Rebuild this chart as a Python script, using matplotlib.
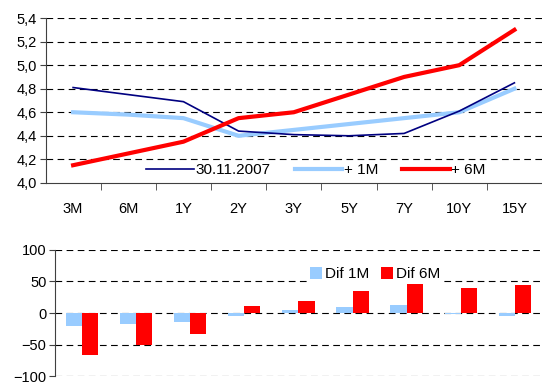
import matplotlib
matplotlib.use("Agg")
import matplotlib.pyplot as plt
import numpy as np
from matplotlib.ticker import FuncFormatter, FixedLocator

plt.rcParams['font.family'] = ['Liberation Sans', 'DejaVu Sans']
plt.rcParams['font.size'] = 10.5

# Yield curve tenors
tenors = ["3M", "6M", "1Y", "2Y", "3Y", "5Y", "7Y", "10Y", "15Y"]

# Yield levels (%)
curve_base = [4.81, 4.75, 4.69, 4.44, 4.41, 4.40, 4.42, 4.61, 4.85]
curve_1m = [4.60, 4.58, 4.55, 4.40, 4.45, 4.50, 4.55, 4.60, 4.80]
curve_6m = [4.15, 4.25, 4.35, 4.55, 4.60, 4.75, 4.90, 5.00, 5.30]

# Differences vs. base curve (bp)
dif_1m = [-21, -17, -14, -4, 4, 10, 13, -1, -5]
dif_6m = [-66, -50, -34, 11, 19, 35, 49, 39, 45]

series_labels = ["30.11.2007", "+ 1M", "+ 6M"]
bar_labels = ["Dif 1M", "Dif 6M"]

NAVY = "#000080"
LIGHT = "#99CCFF"
RED = "#FF0000"

fig = plt.figure(figsize=(5.42, 3.85), dpi=100)

grid_kw = dict(color="black", linestyle=(0, (6, 4)), linewidth=0.8)
legend_kw = dict(frameon=True, facecolor="white", edgecolor="none", framealpha=1.0,
                 fancybox=False, fontsize=11, borderpad=0.15)

# ---- upper panel: yield curves ----
ax1 = fig.add_axes([0.084, 0.525, 0.916, 0.428])
x = np.arange(len(tenors))
ax1.plot(x, curve_base, color=NAVY, lw=1.2, label=series_labels[0], zorder=3)
ax1.plot(x, curve_1m, color=LIGHT, lw=3.0, label=series_labels[1], zorder=2)
ax1.plot(x, curve_6m, color=RED, lw=3.0, label=series_labels[2], zorder=4)
ax1.set_xlim(-0.5, len(tenors) - 0.5)
ax1.set_ylim(4.0, 5.4)
ax1.set_yticks(np.arange(4.0, 5.41, 0.2))
ax1.yaxis.set_major_formatter(FuncFormatter(lambda v, p: f"{v:.1f}".replace(".", ",")))
ax1.set_xticks(x)
ax1.set_xticklabels(tenors)
ax1.xaxis.set_minor_locator(FixedLocator(np.arange(0.5, len(tenors) - 0.5, 1.0)))
ax1.tick_params(axis="x", which="major", length=0, pad=14)
ax1.tick_params(axis="x", which="minor", length=5, color="#404040")
ax1.tick_params(axis="y", length=4, color="#404040", pad=2)
for y in np.arange(4.2, 5.41, 0.2):
    ax1.axhline(y, zorder=1, **grid_kw)
for s in ["top", "right"]:
    ax1.spines[s].set_visible(False)
ax1.spines["left"].set_color("#404040")
ax1.spines["bottom"].set_color("#404040")
leg1 = ax1.legend(loc="lower center", bbox_to_anchor=(0.545, 0.02), ncol=3,
                  handlelength=3.1, handletextpad=0.1, columnspacing=1.6,
                  borderaxespad=0.0, **legend_kw)
leg1.set_zorder(5)

# ---- lower panel: differences ----
ax2 = fig.add_axes([0.101, 0.023, 0.899, 0.328])
w = 0.3
ax2.bar(x - w / 2, dif_1m, width=w, color=LIGHT, label=bar_labels[0], zorder=3)
ax2.bar(x + w / 2, dif_6m, width=w, color=RED, label=bar_labels[1], zorder=3)
ax2.set_xlim(-0.5, len(tenors) - 0.5)
ax2.set_ylim(-100, 100)
ax2.set_yticks([-100, -50, 0, 50, 100])
ax2.set_xticks([])
ax2.tick_params(axis="y", length=4, color="#404040", pad=2)
for y in [-100, -50, 0, 50, 100]:
    ax2.axhline(y, zorder=1, **grid_kw)
for s in ["top", "right", "bottom"]:
    ax2.spines[s].set_visible(False)
ax2.spines["left"].set_color("#404040")
leg2 = ax2.legend(loc="upper left", bbox_to_anchor=(0.52, 0.88), ncol=2,
                  handlelength=0.75, handleheight=0.75, handletextpad=0.2,
                  columnspacing=0.8, borderaxespad=0.0, **legend_kw)
leg2.set_zorder(5)

fig.savefig("out.png", dpi=100)
